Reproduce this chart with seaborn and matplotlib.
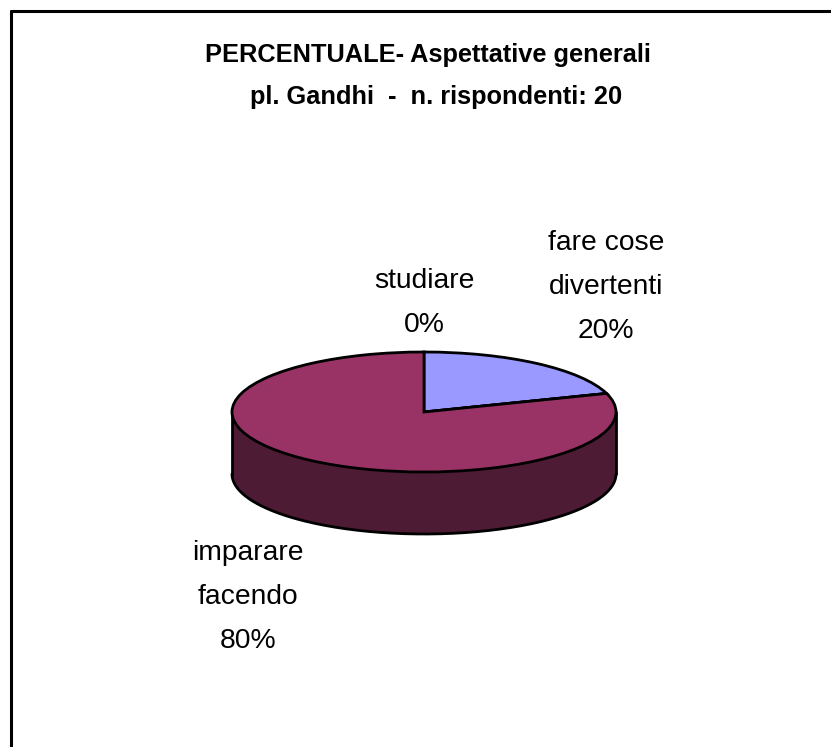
import numpy as np
import seaborn as sns
import matplotlib.pyplot as plt
from matplotlib.lines import Line2D

# Data
categories = ['fare cose\ndivertenti', 'studiare', 'imparare\nfacendo']
percent = [20, 0, 80]
title_lines = ['PERCENTUALE- Aspettative generali', 'pl. Gandhi  -  n. rispondenti: 20']

W, H = 831, 747

sns.set_theme(style='white')
plt.rcParams['font.family'] = ['Liberation Sans', 'DejaVu Sans']
colors = sns.color_palette(['#9999FF', '#FFFFCC', '#993366'])
wall_color = '#4D1B33'

fig = plt.figure(figsize=(W / 100, H / 100), dpi=100, facecolor='white')
ax = fig.add_axes([0, 0, 1, 1])

# pie centre (424, 412), radii 192 x 60, wall 62 px deep
rx, ry, depth = 192, 60, 62
edge = dict(edgecolor='black', linewidth=2.0)

t = np.linspace(np.pi, 2 * np.pi, 200)
x_wall = np.cos(t)
y_top = np.sin(t)
ax.fill_between(x_wall, y_top, y_top - depth / ry, color=wall_color, lw=0, zorder=0)
ax.plot(x_wall, y_top - depth / ry, color='black', lw=2.0, zorder=0.5, solid_capstyle='round')
ax.plot([-1, -1], [0, -depth / ry], color='black', lw=2.0, zorder=0.5, solid_capstyle='round')
ax.plot([1, 1], [0, -depth / ry], color='black', lw=2.0, zorder=0.5, solid_capstyle='round')

ax.pie(percent, colors=colors, startangle=90, counterclock=False, radius=1,
       wedgeprops=edge)

# squash the pie into an ellipse
ax.set_aspect('auto')
ax.set_xlim(-424 / rx, (W - 424) / rx)
ax.set_ylim((412 - H) / ry, 412 / ry)
ax.axis('off')

# frame only on the top and left in the reference
fig.add_artist(Line2D([10.5 / W, 10.5 / W], [0, 1 - 10.5 / H], color='black', lw=2.2))
fig.add_artist(Line2D([10.5 / W, 1], [1 - 10.5 / H, 1 - 10.5 / H], color='black', lw=2.2))

fig.text(428 / W, 1 - 55 / H, title_lines[0], ha='center', va='center',
         fontsize=18.3, fontweight='bold', color='black')
fig.text(436 / W, 1 - 97 / H, title_lines[1], ha='center', va='center',
         fontsize=18.3, fontweight='bold', color='black')

label_pos = [(606, 287), (424, 303), (248, 597)]
for name, pct, (px, py) in zip(categories, percent, label_pos):
    fig.text(px / W, 1 - py / H, f'{name}\n{pct}%', ha='center', va='center',
             fontsize=20.3, linespacing=1.9, color='black')

plt.savefig('out.png', dpi=100)
plt.close()
